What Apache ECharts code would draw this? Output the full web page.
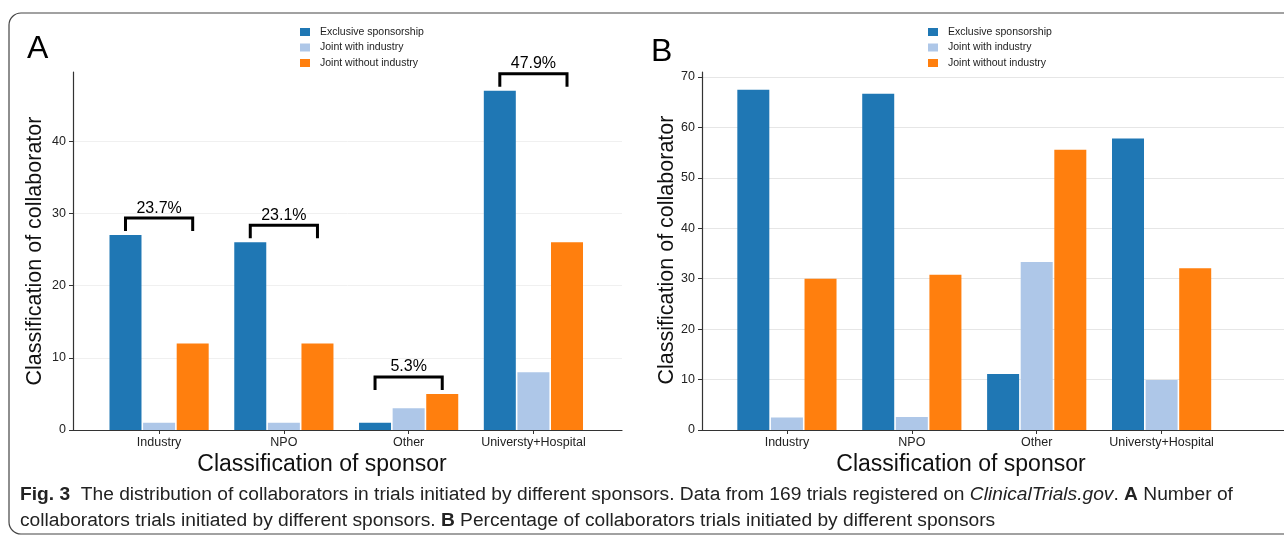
<!DOCTYPE html>
<html><head><meta charset="utf-8">
<script src="https://cdn.jsdelivr.net/npm/echarts@6/dist/echarts.min.js"></script>
<style>html,body{margin:0;padding:0;background:#fff}#c{width:1284px;height:540px}</style>
</head><body><div id="c"></div>
<script>
const categories = ['Industry', 'NPO', 'Other', 'Universty+Hospital'];
const seriesNames = ['Exclusive sponsorship', 'Joint with industry', 'Joint without industry'];
const countExclusive = [27, 26, 1, 47];
const countJointWith = [1, 1, 3, 8];
const countJointWithout = [12, 12, 5, 26];
const pctExclusive = [67.5, 66.7, 11.1, 57.8];
const pctJointWith = [2.5, 2.6, 33.3, 9.9];
const pctJointWithout = [30.0, 30.8, 55.6, 32.1];
const bracketLabels = ['23.7%', '23.1%', '5.3%', '47.9%'];
const yTicksA = [0, 10, 20, 30, 40];
const yTicksB = [0, 10, 20, 30, 40, 50, 60, 70];
const catIndex = [0, 1, 2, 3];

const FONT = 'Liberation Sans, Arial, sans-serif';
const colors = ['#1f77b4', '#aec7e8', '#ff7f0e'];
const BAR_W = 32, BAR_GAP = 0.05;

const chart = echarts.init(document.getElementById('c'), null, {renderer: 'canvas'});

function barSeries(idx, data, axisIdx) {
  return {
    type: 'bar', name: seriesNames[idx], xAxisIndex: axisIdx, yAxisIndex: axisIdx,
    data: data.map((v, i) => [catIndex[i], v]),
    barWidth: BAR_W, barGap: (BAR_GAP * 100) + '%',
    itemStyle: {color: colors[idx]},
    emphasis: {disabled: true}
  };
}

const groupsA = [countExclusive, countJointWith, countJointWithout];
const bracketSeries = {
  type: 'custom', xAxisIndex: 0, yAxisIndex: 0, clip: false, silent: true, z: 5,
  data: catIndex.map(i => [i, Math.max(...groupsA.map(g => g[i]))]),
  renderItem(params, api) {
    const c = api.coord([api.value(0), api.value(1)]);
    const stride = BAR_W * (1 + BAR_GAP);
    const x1 = c[0] - stride, x2 = c[0] + stride;
    const yb = c[1] - 4, yt = yb - 13;
    return {
      type: 'group', children: [
        {type: 'polyline', shape: {points: [[x1, yb], [x1, yt], [x2, yt], [x2, yb]]},
         style: {stroke: '#000', lineWidth: 3, fill: null}},
        {type: 'text', style: {text: bracketLabels[params.dataIndex], x: c[0], y: yt - 2,
         textAlign: 'center', textVerticalAlign: 'bottom', fill: '#000', fontSize: 16, fontFamily: FONT}}
      ]
    };
  }
};

function xAxis(gridIndex, min, max) {
  return {
    type: 'value', gridIndex, min, max,
    axisLine: {show: true, onZero: true, lineStyle: {color: '#333', width: 1.2}},
    axisTick: {show: true, length: 4, customValues: catIndex, lineStyle: {color: '#333'}},
    axisLabel: {customValues: catIndex, formatter: v => categories[Math.round(v)] || '',
      fontSize: 12.5, color: '#222', margin: 6, fontFamily: FONT},
    splitLine: {show: false}
  };
}
function yAxis(gridIndex, max, ticks, gridColor) {
  return {
    type: 'value', gridIndex, min: 0, max, interval: 10,
    axisLine: {show: true, onZero: false, lineStyle: {color: '#333', width: 1.2}},
    axisTick: {show: true, length: 4, customValues: ticks, lineStyle: {color: '#333'}},
    axisLabel: {customValues: ticks, fontSize: 12.5, color: '#222', margin: 7, fontFamily: FONT},
    splitLine: {show: true, lineStyle: {color: gridColor, width: 1}}
  };
}
function legend(left) {
  return {
    data: seriesNames, left, top: 21, orient: 'vertical', icon: 'rect',
    itemWidth: 10, itemHeight: 8, itemGap: 3.5, selectedMode: false,
    textStyle: {fontSize: 10.5, color: '#222', fontFamily: FONT, lineHeight: 12, padding: [0, 0, 0, 5]}
  };
}

const capFont = 'Liberation Sans, Arial, sans-serif';
const capSize = 19.2;

chart.setOption({
  animation: false,
  backgroundColor: '#fff',
  grid: [
    {left: 73, right: 662, top: 72, bottom: 110},
    {left: 702, right: 0, top: 72, bottom: 110}
  ],
  xAxis: [xAxis(0, -0.69, 3.71), xAxis(1, -0.68, 3.98)],
  yAxis: [yAxis(0, 49.6, yTicksA, '#f0f0f0'), yAxis(1, 71, yTicksB, '#e6e6e6')],
  legend: [legend(295), legend(923)],
  series: [
    barSeries(0, countExclusive, 0), barSeries(1, countJointWith, 0), barSeries(2, countJointWithout, 0),
    barSeries(0, pctExclusive, 1), barSeries(1, pctJointWith, 1), barSeries(2, pctJointWithout, 1),
    bracketSeries
  ],
  graphic: [
    {type: 'rect', shape: {x: 9, y: 13, width: 1300, height: 521, r: 12}, silent: true,
     style: {fill: null, stroke: '#444', lineWidth: 1.2}},
    {type: 'text', x: 27, y: 49, style: {text: 'A', fontSize: 32, fontFamily: FONT, fill: '#000', textVerticalAlign: 'middle'}},
    {type: 'text', x: 651, y: 52, style: {text: 'B', fontSize: 32, fontFamily: FONT, fill: '#000', textVerticalAlign: 'middle'}},
    {type: 'text', x: 35, y: 251, rotation: Math.PI / 2,
     style: {text: 'Classification of collaborator', fontSize: 21.5, fontFamily: FONT, fill: '#111', textAlign: 'center', textVerticalAlign: 'middle'}},
    {type: 'text', x: 667, y: 250, rotation: Math.PI / 2,
     style: {text: 'Classification of collaborator', fontSize: 21.5, fontFamily: FONT, fill: '#111', textAlign: 'center', textVerticalAlign: 'middle'}},
    {type: 'text', x: 322, y: 465,
     style: {text: 'Classification of sponsor', fontSize: 23, fontFamily: FONT, fill: '#111', textAlign: 'center', textVerticalAlign: 'middle'}},
    {type: 'text', x: 961, y: 465,
     style: {text: 'Classification of sponsor', fontSize: 23, fontFamily: FONT, fill: '#111', textAlign: 'center', textVerticalAlign: 'middle'}},
    {type: 'text', x: 20, y: 482,
     style: {
       text: '{b|Fig. 3}{n|  The distribution of collaborators in trials initiated by different sponsors. Data from 169 trials registered on }{i|ClinicalTrials.gov}{n|. }{b|A}{n| Number of}\n{n|collaborators trials initiated by different sponsors. }{b|B}{n| Percentage of collaborators trials initiated by different sponsors}',
       textVerticalAlign: 'top', fill: '#222', fontSize: capSize, fontFamily: capFont, lineHeight: 26,
       rich: {
         n: {fontSize: capSize, fontFamily: capFont, fill: '#222', lineHeight: 26},
         b: {fontSize: capSize, fontFamily: capFont, fontWeight: 'bold', fill: '#222', lineHeight: 26},
         i: {fontSize: capSize, fontFamily: capFont, fontStyle: 'italic', fill: '#222', lineHeight: 26}
       }
     }}
  ]
});
</script></body></html>
